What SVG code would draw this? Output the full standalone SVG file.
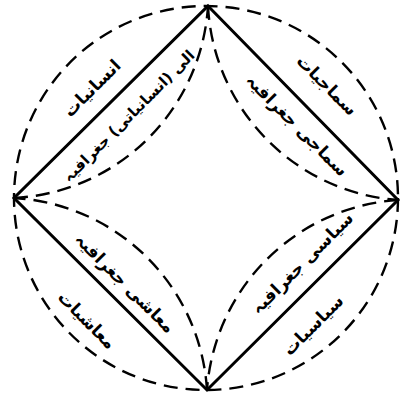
<svg xmlns="http://www.w3.org/2000/svg" width="406" height="402" viewBox="0 0 406 402">
<style>
.dash{fill:none;stroke:#000;stroke-width:2.4;stroke-dasharray:14 8;stroke-linecap:butt}
.solid{fill:none;stroke:#000;stroke-width:3;stroke-linejoin:miter}
.lbl{font-family:"DejaVu Sans",sans-serif;font-size:17px;font-weight:bold;fill:#000;text-anchor:middle;dominant-baseline:central}
.sm{font-size:15px}
</style>
<rect width="406" height="402" fill="#fff"/>
<g id="connectors">
<circle class="dash" cx="206" cy="198" r="192"/>
<path class="dash" d="M208,6 A205,205 0 0 0 398,200"/>
<path class="dash" d="M398,200 A205,205 0 0 0 207,390"/>
<path class="dash" d="M207,390 A205,205 0 0 0 14,198"/>
<path class="dash" d="M14,198 A205,205 0 0 0 208,6"/>
<path class="solid" d="M208,6 L398,200 L207,390 L14,198 Z"/>
</g>
<g id="anthropology"><text class="lbl" transform="translate(92,88) rotate(-45)">انسانیات</text></g>
<g id="anthro-geography"><text class="lbl sm" transform="translate(129,116) rotate(-45)">الی (انسانیاتی) جغرافیہ</text></g>
<g id="sociology"><text class="lbl" transform="translate(327,85) rotate(45)">سماجیات</text></g>
<g id="social-geography"><text class="lbl" transform="translate(297,125) rotate(45)">سماجی جغرافیہ</text></g>
<g id="economic-geography"><text class="lbl" transform="translate(125,283) rotate(45)">معاشی جغرافیہ</text></g>
<g id="economics"><text class="lbl" transform="translate(87,320) rotate(45)">معاشیات</text></g>
<g id="political-geography"><text class="lbl" transform="translate(302,263) rotate(-45)">سیاسی جغرافیہ</text></g>
<g id="politics"><text class="lbl" transform="translate(313,325) rotate(-45)">سیاسیات</text></g>
</svg>
